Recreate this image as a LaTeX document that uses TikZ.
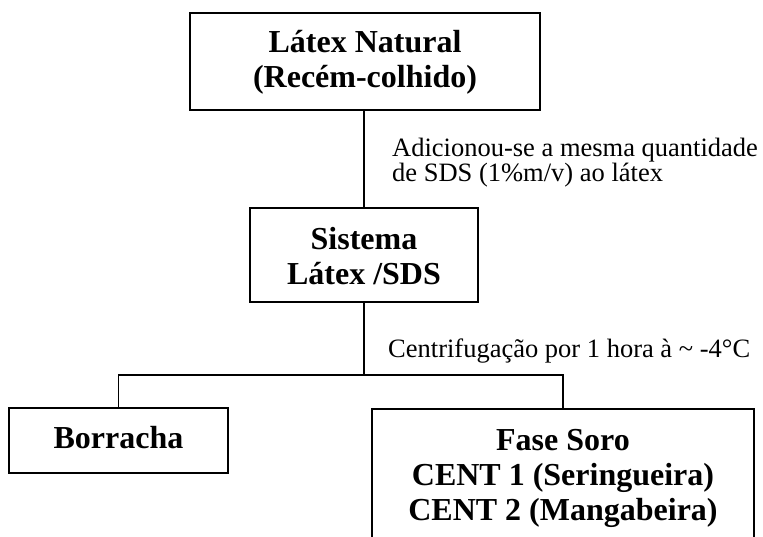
\documentclass[tikz,border=0pt]{standalone}
\usepackage{fontspec}
\setmainfont{Liberation Serif}
\begin{document}
\begin{tikzpicture}[x=1pt,y=-1pt,
  boxstyle/.style={draw,line width=1.6pt,align=center,inner sep=0pt,
    text depth=10.5pt,font=\fontsize{32}{35}\selectfont\bfseries},
  conn/.style={line width=1.3pt},
  lbl/.style={inner sep=0pt,align=left,font=\fontsize{26.5}{25}\selectfont}]
\useasboundingbox (0,0) rectangle (763,537);
\clip (0,0) rectangle (763,537);
\fill[white] (0,0) rectangle (763,537);
\node[boxstyle,minimum width=350pt,minimum height=97pt,text height=63.5pt] (top) at (365,61.5)
  {Látex Natural\\(Recém-colhido)};
\node[boxstyle,minimum width=228pt,minimum height=94pt,text height=70.5pt] (sis) at (364,255)
  {Sistema\\Látex /SDS};
\node[boxstyle,minimum width=219pt,minimum height=65pt,text height=24.5pt,text depth=9.5pt] (bor) at (118.5,440.5)
  {Borracha};
\node[boxstyle,minimum width=382pt,inner ysep=17.5pt,text height=94.5pt,anchor=north] (fase) at (563,408)
  {Fase Soro\\CENT 1 (Seringueira)\\CENT 2 (Mangabeira)};
\coordinate (j) at (364,375);
\draw[conn] (sis.north |- top.south) -- (sis.north);
\draw[conn] (sis.south) -- (j);
\draw[conn] (bor.north) |- (j) -| (fase.north);
\node[lbl,anchor=north west,text height=45pt] (l1) at (392,136)
  {Adicionou-se a mesma quantidade\\de SDS (1\%m/v) ao látex};
\node[lbl,anchor=base west] (l2) at (388,357)
  {Centrifugação por 1 hora à \textasciitilde{} -4°C};
\end{tikzpicture}
\end{document}
